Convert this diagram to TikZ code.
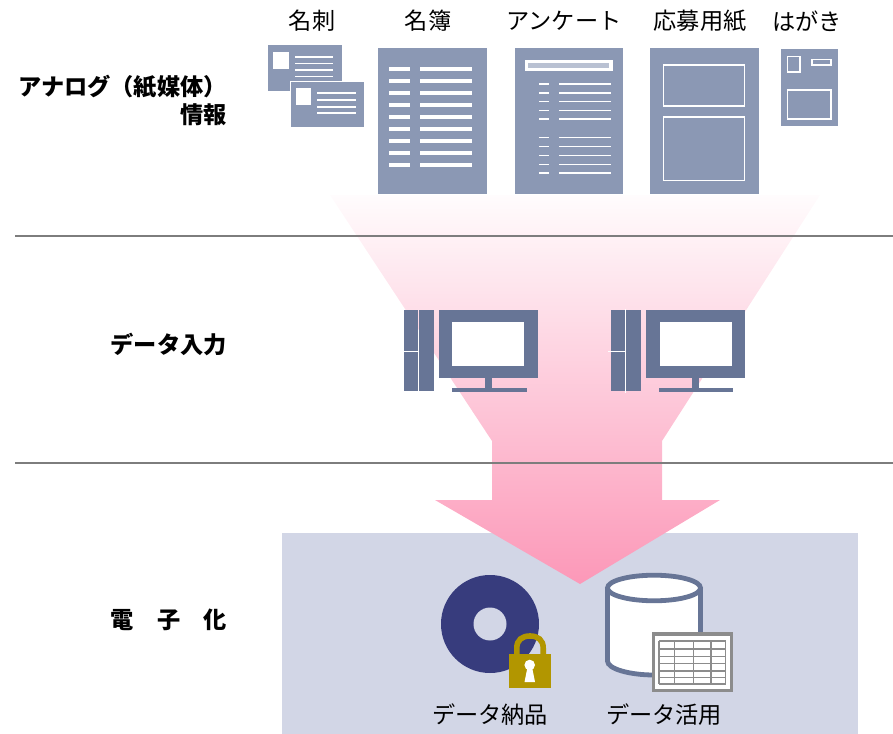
\documentclass[tikz,border=0pt]{standalone}
\usepackage{fontspec}
\setmainfont{Noto Sans CJK JP}
\definecolor{paper}{RGB}{139,152,180}
\definecolor{monitorc}{RGB}{103,117,150}
\definecolor{boxc}{RGB}{210,214,230}
\definecolor{discc}{RGB}{55,60,125}
\definecolor{lockc}{RGB}{178,150,0}
\definecolor{pinkc}{RGB}{252,152,184}
\definecolor{ruleC}{RGB}{125,125,125}
\definecolor{frameC}{RGB}{140,140,140}
\tikzset{
  x=0.75pt,y=-0.75pt,
  paperbox/.style={fill=paper,draw=none},
  whiteline/.style={draw=white,line width=1.3pt},
  thinwhite/.style={draw=white,line width=1.1pt},
  thickwhite/.style={draw=white,line width=2.9pt},
  pc/.style={fill=monitorc,draw=none},
  lab/.style={inner sep=0pt,font=\fontsize{17.4}{20}\selectfont,text=black},
  sidelab/.style={inner sep=0pt,anchor=east,font=\fontsize{17.4}{20}\selectfont\bfseries,text=black},
  gridline/.style={draw=frameC,line width=0.95pt},
  dbstroke/.style={fill=white,draw=monitorc,line width=3.6pt},
}
\begin{document}
\begin{tikzpicture}
\useasboundingbox (0,0) rectangle (893,734);
% bottom box
\fill[boxc] (282,533) rectangle (858,734);
% funnel
\shade[top color=pinkc!3!white,middle color=pinkc!42!white,bottom color=pinkc]
  (330,195) -- (820,195) -- (662,441) -- (662,500) -- (720,500) -- (580,584)
  -- (435,500) -- (492,500) -- (492,441) -- cycle;
% rules
\draw[ruleC,line width=0.9pt] (15,236) -- (893,236);
\draw[ruleC,line width=0.9pt] (15,463) -- (893,463);
% cards
\fill[paperbox] (268,45) rectangle (342,91);
\fill[white] (273,52) rectangle (288.5,69);
\foreach \y in {57,63.5,70,76.5} \draw[thinwhite] (295,\y) -- (333,\y);
\path[paperbox,draw=white,line width=0.9pt] (290.5,81.5) rectangle (364.5,127.5);
\fill[white] (296,88) rectangle (311,105);
\foreach \y in {93,100,107,113} \draw[thinwhite] (317,\y) -- (356,\y);
% list
\fill[paperbox] (378,48) rectangle (487,194);
\foreach \y in {68.7,80.7,92.7,104.7,116.7,128.7,140.7,152.7,164.7}{
  \draw[thickwhite] (389,\y) -- (410,\y);
  \draw[thickwhite] (420,\y) -- (472,\y);
}
% questionnaire
\fill[paperbox] (515,48) rectangle (623,194);
\fill[white] (525,60) rectangle (613,71);
\fill[paper!60!white] (528,63.5) rectangle (609,68);
\foreach \y in {84,93,101.5,110.5,119,137.5,146.5,155.5,164.5,173}{
  \draw[thinwhite] (539,\y) -- (549,\y);
  \draw[thinwhite] (559,\y) -- (611,\y);
}
% application form
\fill[paperbox] (650,48) rectangle (759,194);
\draw[whiteline] (663.5,65) rectangle (744.5,106);
\draw[whiteline] (663.5,117) rectangle (744.5,180.5);
% postcard
\fill[paperbox] (781,49) rectangle (838,126);
\draw[whiteline] (787.5,56.5) rectangle (800,72);
\draw[whiteline] (812,59.5) rectangle (831,65);
\draw[whiteline] (787.5,90) rectangle (831,119);
% left computer
\fill[pc] (403.5,310) rectangle (417.5,391);
\fill[pc] (419,310) rectangle (433.5,391);
\draw[white,line width=0.7pt] (403,351) -- (418,351);
\fill[pc] (439,310) rectangle (537.5,378);
\fill[white] (452,322) rectangle (524,366);
\fill[pc] (485,378) rectangle (491.5,388);
\fill[pc] (452,388) rectangle (526.5,392.5);
% right computer
\fill[pc] (611,310) rectangle (641,391);
\draw[white,line width=0.7pt] (625.7,309) -- (625.7,393);
\draw[white,line width=0.7pt] (608,351) -- (625.7,351);
\fill[pc] (646,310) rectangle (744.5,378);
\fill[white] (659.5,322) rectangle (731.5,366);
\fill[pc] (692,378) rectangle (699,388);
\fill[pc] (659,388) rectangle (733,392.5);
% disc
\fill[discc] (490,624) circle[radius=49];
\fill[boxc] (490,624) circle[radius=16.5];
% lock
\draw[lockc,line width=4.2pt] (516.8,656) -- (516.8,648)
  .. controls (516.8,640) and (522,636) .. (530,636)
  .. controls (538,636) and (543.2,640) .. (543.2,648) -- (543.2,656);
\fill[lockc] (509.3,654) rectangle (550.7,688);
\fill[white] (529.7,665) circle[radius=5.3];
\fill[white] (527.5,667) -- (532,667) -- (535,682) -- (524.5,682) -- cycle;
% database
\path[dbstroke]
  (607.5,588) -- (607.5,661)
  .. controls (607.5,669) and (630,675) .. (654,675)
  .. controls (678,675) and (700.5,669) .. (700.5,661) -- (700.5,588);
\path[dbstroke] (654,588) ellipse[x radius=46.5,y radius=12.8];
% sheet
\fill[white,draw=frameC,line width=2.4pt] (653.5,634) rectangle (731.5,690.5);
\foreach \y in {641,649,656.3,663.7,671,677.7,684} \draw[gridline] (659,\y) -- (725.7,\y);
\foreach \x in {659,674.3,693.7,711,725.7} \draw[gridline] (\x,641) -- (\x,684);
% text
\node[lab] (t1) at (312,21) {名刺};
\node[lab] (t2) at (428,21) {名簿};
\node[lab] (t3) at (564,21) {アンケート};
\node[lab] (t4) at (700,21) {応募用紙};
\node[lab] (t5) at (807,21) {はがき};
\node[sidelab] (s1) at (227,87) {アナログ（紙媒体）};
\node[sidelab] (s2) at (227,115) {情報};
\node[sidelab] (s3) at (227,344) {データ入力};
\node[sidelab] (s4) at (227,620) {電　子　化};
\node[lab] (d1) at (490,715) {データ納品};
\node[lab] (d2) at (664,715) {データ活用};
\end{tikzpicture}
\end{document}
